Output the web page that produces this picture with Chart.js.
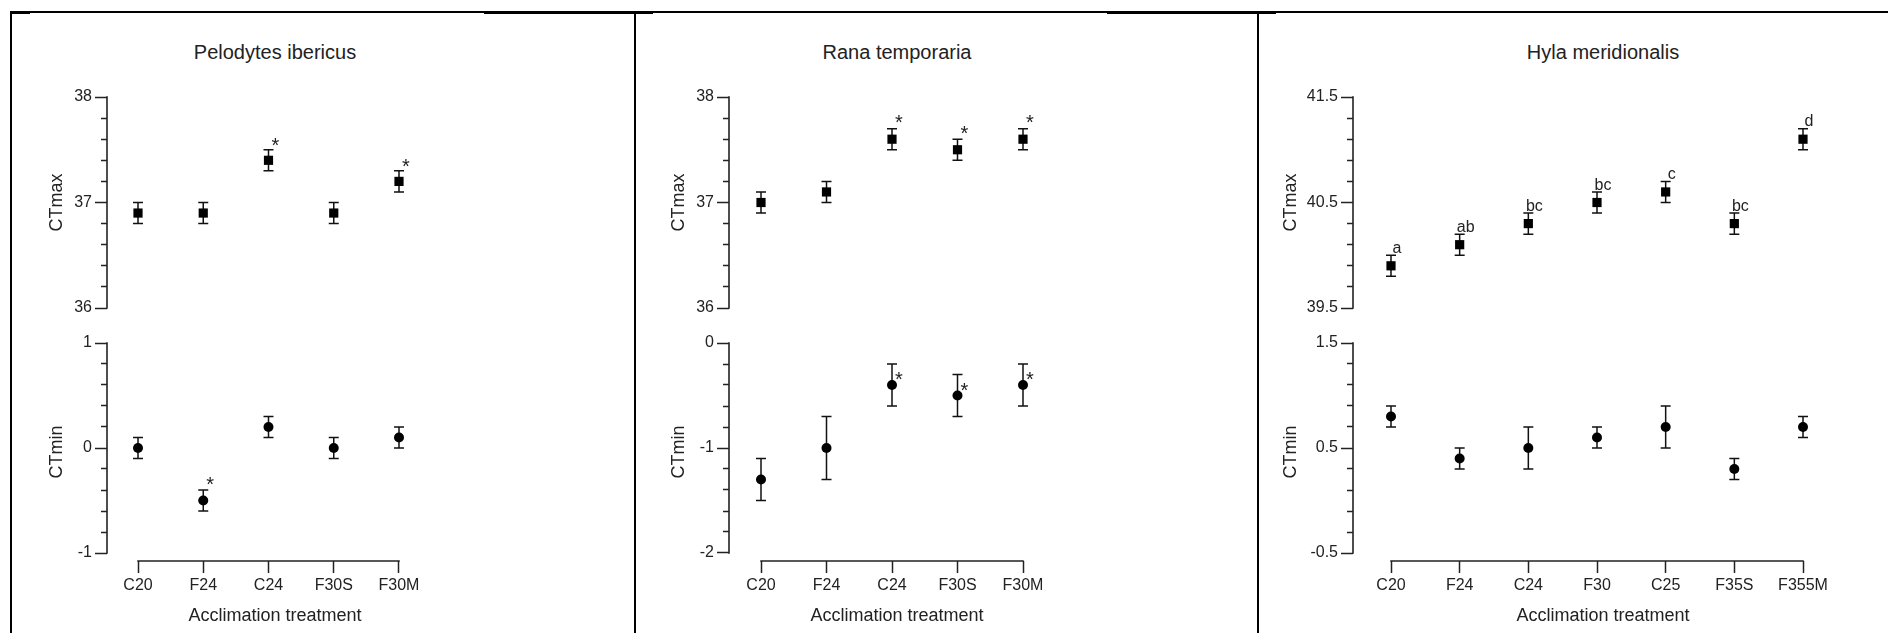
<!DOCTYPE html>
<html>
<head>
<meta charset="utf-8">
<title>CTmax / CTmin by acclimation treatment</title>
<script src="https://cdn.jsdelivr.net/npm/chart.js@4"></script>
<style>
  body { margin: 0; background: #fff; width: 1888px; height: 633px; overflow: hidden; position: relative; font-family: "Liberation Sans", Arial, sans-serif; }
  .line { position: absolute; background: #000; }
  .title { position: absolute; width: 400px; text-align: center; font-size: 20px; line-height: 24px; color: #222; }
  canvas { position: absolute; }
</style>
</head>
<body>
<!-- table borders round the three panels -->
<div class="line" style="left:10px;top:11px;width:1878px;height:2px"></div>
<div class="line" style="left:10px;top:11px;width:20px;height:3px"></div>
<div class="line" style="left:484px;top:11px;width:169px;height:3px"></div>
<div class="line" style="left:1107px;top:11px;width:169px;height:3px"></div>
<div class="line" style="left:10px;top:11px;width:2px;height:622px"></div>
<div class="line" style="left:634px;top:11px;width:2px;height:622px"></div>
<div class="line" style="left:1257px;top:11px;width:2px;height:622px"></div>

<div class="title" style="left:75px;top:40px">Pelodytes ibericus</div>
<div class="title" style="left:697px;top:40px">Rana temporaria</div>
<div class="title" style="left:1403px;top:40px">Hyla meridionalis</div>

<script>
// Pelodytes ibericus
const pelCats = ['C20', 'F24', 'C24', 'F30S', 'F30M'];
const pelMax = [36.9, 36.9, 37.4, 36.9, 37.2];
const pelMaxErr = [0.1, 0.1, 0.1, 0.1, 0.1];
const pelMaxMarks = ['', '', '*', '', '*'];
const pelMin = [0, -0.5, 0.2, 0, 0.1];
const pelMinErr = [0.1, 0.1, 0.1, 0.1, 0.1];
const pelMinMarks = ['', '*', '', '', ''];
const pelMaxTicks = [36, 37, 38];
const pelMinTicks = [-1, 0, 1];

// Rana temporaria
const ranCats = ['C20', 'F24', 'C24', 'F30S', 'F30M'];
const ranMax = [37.0, 37.1, 37.6, 37.5, 37.6];
const ranMaxErr = [0.1, 0.1, 0.1, 0.1, 0.1];
const ranMaxMarks = ['', '', '*', '*', '*'];
const ranMin = [-1.3, -1.0, -0.4, -0.5, -0.4];
const ranMinErr = [0.2, 0.3, 0.2, 0.2, 0.2];
const ranMinMarks = ['', '', '*', '*', '*'];
const ranMaxTicks = [36, 37, 38];
const ranMinTicks = [-2, -1, 0];

// Hyla meridionalis
const hylCats = ['C20', 'F24', 'C24', 'F30', 'C25', 'F35S', 'F355M'];
const hylMax = [39.9, 40.1, 40.3, 40.5, 40.6, 40.3, 41.1];
const hylMaxErr = [0.1, 0.1, 0.1, 0.1, 0.1, 0.1, 0.1];
const hylMaxMarks = ['a', 'ab', 'bc', 'bc', 'c', 'bc', 'd'];
const hylMin = [0.8, 0.4, 0.5, 0.6, 0.7, 0.3, 0.7];
const hylMinErr = [0.1, 0.1, 0.2, 0.1, 0.2, 0.1, 0.1];
const hylMinMarks = ['', '', '', '', '', '', ''];
const hylMaxTicks = [39.5, 40.5, 41.5];
const hylMinTicks = [-0.5, 0.5, 1.5];

const minorStep = 0.2;
const FONT = '"Liberation Sans", Arial, sans-serif';
const INK = '#222';

Chart.defaults.font.family = FONT;
Chart.defaults.color = INK;

// page geometry of each panel (axis position, first/last treatment, centre of titles)
const panels = [
  { left: 12, axisX: 107, firstX: 138, lastX: 399, yTitleX: 57, centerX: 275 },
  { left: 637, axisX: 729, firstX: 761, lastX: 1023, yTitleX: 679, centerX: 897 },
  { left: 1260, axisX: 1353, firstX: 1391, lastX: 1803, yTitleX: 1291, centerX: 1603 }
];

function isMajor(v, majors) {
  return majors.some(m => Math.abs(m - v) < 1e-6);
}

function stepTicks(majors) {
  const lo = majors[0], hi = majors[majors.length - 1];
  const n = Math.round((hi - lo) / minorStep);
  const out = [];
  for (let k = 0; k <= n; k++) out.push({ value: +(lo + k * minorStep).toFixed(2) });
  return out;
}

// error bars under the points, significance marks above them
const errorBars = {
  id: 'errorBars',
  beforeDatasetsDraw(chart) {
    const ds = chart.data.datasets[0];
    const xs = chart.scales.x, ys = chart.scales.y;
    const c = chart.ctx;
    c.save();
    c.strokeStyle = '#111';
    c.lineWidth = 1.5;
    ds.data.forEach((p, i) => {
      const x = xs.getPixelForValue(p.x);
      const t = ys.getPixelForValue(p.y + ds.errors[i]);
      const b = ys.getPixelForValue(p.y - ds.errors[i]);
      c.beginPath();
      c.moveTo(x, t); c.lineTo(x, b);
      c.moveTo(x - 5, t); c.lineTo(x + 5, t);
      c.moveTo(x - 5, b); c.lineTo(x + 5, b);
      c.stroke();
    });
    c.restore();
  },
  afterDatasetsDraw(chart) {
    const ds = chart.data.datasets[0];
    const xs = chart.scales.x, ys = chart.scales.y;
    const c = chart.ctx;
    c.save();
    c.fillStyle = INK;
    c.textAlign = 'center';
    c.textBaseline = 'alphabetic';
    ds.marks.forEach((m, i) => {
      if (!m) return;
      const p = ds.data[i];
      c.font = (m === '*' ? '20px ' : '16px ') + FONT;
      const mt = c.measureText(m);
      const x = xs.getPixelForValue(p.x) + ds.markDx;
      const bottom = ys.getPixelForValue(p.y) + ds.markDy;
      c.fillText(m, x, bottom - mt.actualBoundingBoxDescent);
    });
    c.restore();
  }
};

// Prism-style offset axes: y line stops at last tick, x line spans first..last treatment
const axisLines = {
  id: 'axisLines',
  afterDraw(chart) {
    const { ctx, chartArea, scales } = chart;
    const ys = scales.y, xs = scales.x;
    const t = ys.ticks;
    ctx.save();
    ctx.strokeStyle = INK;
    ctx.lineWidth = 1.6;
    ctx.beginPath();
    ctx.moveTo(chartArea.left, ys.getPixelForValue(t[t.length - 1].value) - 0.75);
    ctx.lineTo(chartArea.left, ys.getPixelForValue(t[0].value) + 0.75);
    if (xs.options.display) {
      const n = chart.data.datasets[0].data.length;
      ctx.moveTo(xs.getPixelForValue(0) - 0.75, chartArea.bottom);
      ctx.lineTo(xs.getPixelForValue(n - 1) + 0.75, chartArea.bottom);
    }
    ctx.stroke();
    ctx.restore();
  }
};

function makePlot(panel, spec) {
  const bottom = spec.bottom;
  const top = bottom ? 322 : 80;
  const height = bottom ? 311 : 242;
  const right = 2 * panel.centerX - panel.axisX;
  const n = spec.cats.length;
  const spacing = (panel.lastX - panel.firstX) / (n - 1);
  const lo = spec.ticks[0], hi = spec.ticks[spec.ticks.length - 1];

  const canvas = document.createElement('canvas');
  canvas.width = right + 10 - panel.left;
  canvas.height = height;
  canvas.style.left = panel.left + 'px';
  canvas.style.top = top + 'px';
  document.body.appendChild(canvas);

  new Chart(canvas, {
    type: 'scatter',
    data: {
      datasets: [{
        data: spec.values.map((v, i) => ({ x: i, y: v })),
        errors: spec.errors,
        marks: spec.marks,
        markDx: spec.markDx,
        markDy: spec.markDy,
        pointStyle: bottom ? 'circle' : 'rect',
        pointRadius: bottom ? 5 : 6.5,
        pointHoverRadius: bottom ? 5 : 6.5,
        backgroundColor: '#000',
        borderColor: '#000',
        borderWidth: 0,
        clip: false
      }]
    },
    options: {
      responsive: false,
      animation: false,
      devicePixelRatio: 1,
      layout: { padding: { left: 0, right: 10, top: bottom ? 21 : 17, bottom: bottom ? 0 : 14 } },
      plugins: { legend: { display: false }, tooltip: { enabled: false } },
      scales: {
        x: {
          type: 'linear',
          display: bottom,
          min: (panel.axisX - panel.firstX) / spacing,
          max: n - 1 + (right - panel.lastX) / spacing,
          afterBuildTicks: s => { s.ticks = spec.cats.map((c, i) => ({ value: i })); },
          afterFit: s => { if (bottom) s.height = 72; },
          ticks: { callback: v => spec.cats[v], autoSkip: false, maxRotation: 0, padding: 3, font: { size: 16 }, color: INK },
          grid: { drawOnChartArea: false, tickLength: 12, tickWidth: 1.5, tickColor: INK },
          border: { display: false },
          title: { display: true, text: 'Acclimation treatment', font: { size: 18 }, color: INK, padding: { top: 0, bottom: 6 } }
        },
        y: {
          min: bottom ? lo - (hi - lo) * 8 / 210 : lo,
          max: hi,
          afterBuildTicks: s => { s.ticks = stepTicks(spec.ticks); },
          afterFit: s => { s.width = panel.axisX - panel.left; },
          ticks: {
            callback: v => isMajor(v, spec.ticks) ? String(spec.ticks.find(m => Math.abs(m - v) < 1e-6)) : '',
            autoSkip: false, padding: 3, font: { size: 16 }, color: INK
          },
          grid: {
            drawOnChartArea: false, tickLength: 12, tickWidth: 1.5, tickColor: INK,
            tickBorderDash: ctx => isMajor(ctx.tick.value, spec.ticks) ? [] : [0, 6, 6, 0]
          },
          border: { display: false },
          title: {
            display: true, text: spec.yTitle, font: { size: 18 }, color: INK,
            padding: { top: panel.yTitleX - panel.left - 10.8, bottom: 0 }
          }
        }
      }
    },
    plugins: [errorBars, axisLines]
  });
}

makePlot(panels[0], { bottom: false, cats: pelCats, values: pelMax, errors: pelMaxErr, marks: pelMaxMarks, ticks: pelMaxTicks, yTitle: 'CTmax', markDx: 7, markDy: -14 });
makePlot(panels[0], { bottom: true, cats: pelCats, values: pelMin, errors: pelMinErr, marks: pelMinMarks, ticks: pelMinTicks, yTitle: 'CTmin', markDx: 7, markDy: -16 });
makePlot(panels[1], { bottom: false, cats: ranCats, values: ranMax, errors: ranMaxErr, marks: ranMaxMarks, ticks: ranMaxTicks, yTitle: 'CTmax', markDx: 7, markDy: -16 });
makePlot(panels[1], { bottom: true, cats: ranCats, values: ranMin, errors: ranMinErr, marks: ranMinMarks, ticks: ranMinTicks, yTitle: 'CTmin', markDx: 7, markDy: -5 });
makePlot(panels[2], { bottom: false, cats: hylCats, values: hylMax, errors: hylMaxErr, marks: hylMaxMarks, ticks: hylMaxTicks, yTitle: 'CTmax', markDx: 6, markDy: -13 });
makePlot(panels[2], { bottom: true, cats: hylCats, values: hylMin, errors: hylMinErr, marks: hylMinMarks, ticks: hylMinTicks, yTitle: 'CTmin', markDx: 6, markDy: -13 });
</script>
</body>
</html>
